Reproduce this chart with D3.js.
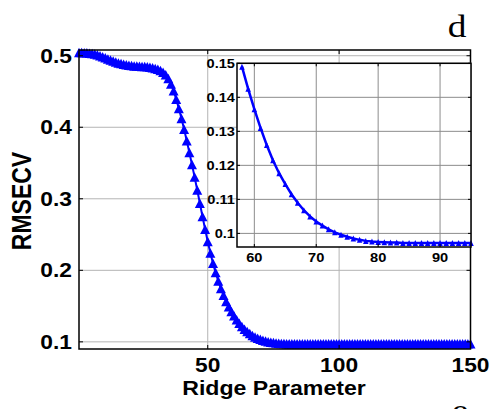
<!DOCTYPE html>
<html>
<head>
<meta charset="utf-8">
<script src="https://cdn.jsdelivr.net/npm/d3@7"></script>
<style>
	body { margin: 0; background: #fff; }
	svg { display: block; }
	text { font-family: "Liberation Sans", Arial, sans-serif; font-weight: bold; fill: #000; }
</style>
</head>
<body>
<div class="chart"></div>
<script>
// DATA
var ridge = d3.range(1, 151);
var rmsecv = [
	0.5045, 0.5045, 0.5043, 0.5040, 0.5035, 0.5030, 0.5023, 0.5013, 0.5000, 0.4985,
	0.4970, 0.4955, 0.4940, 0.4925, 0.4912, 0.4900, 0.4890, 0.4880, 0.4873, 0.4867,
	0.4862, 0.4858, 0.4855, 0.4853, 0.4851, 0.4849, 0.4845, 0.4840, 0.4832, 0.4820,
	0.4810, 0.4795, 0.4770, 0.4735, 0.4680, 0.4605, 0.4510, 0.4393, 0.4263, 0.4123,
	0.3973, 0.3813, 0.3648, 0.3478, 0.3303, 0.3123, 0.2938, 0.2753, 0.2573, 0.2403,
	0.2243, 0.2098, 0.1968, 0.1850, 0.1745, 0.1650, 0.1565, 0.1490, 0.1425, 0.1365,
	0.1310, 0.1260, 0.1215, 0.1177, 0.1145, 0.1115, 0.1090, 0.1068, 0.1050, 0.1035,
	0.1023, 0.1012, 0.1003, 0.0996, 0.0990, 0.0985, 0.0981, 0.0978, 0.0976, 0.0975,
	0.0974, 0.0973, 0.0973, 0.0972, 0.0972, 0.0972, 0.0972, 0.0972, 0.0972, 0.0972,
	0.0972, 0.0972, 0.0972, 0.0972, 0.0972, 0.0972, 0.0972, 0.0972, 0.0972, 0.0972,
	0.0972, 0.0972, 0.0972, 0.0972, 0.0972, 0.0972, 0.0972, 0.0972, 0.0972, 0.0972,
	0.0972, 0.0972, 0.0972, 0.0972, 0.0972, 0.0972, 0.0972, 0.0972, 0.0972, 0.0972,
	0.0972, 0.0972, 0.0972, 0.0972, 0.0972, 0.0972, 0.0972, 0.0972, 0.0972, 0.0972,
	0.0972, 0.0972, 0.0972, 0.0972, 0.0972, 0.0972, 0.0972, 0.0972, 0.0972, 0.0972,
	0.0972, 0.0972, 0.0972, 0.0972, 0.0972, 0.0972, 0.0972, 0.0972, 0.0972, 0.0972
];
var mainXTicks = [50, 100, 150];
var mainYTicks = [0.1, 0.2, 0.3, 0.4, 0.5];
var insetXTicks = [60, 70, 80, 90];
var insetYTicks = [0.1, 0.11, 0.12, 0.13, 0.14, 0.15];
var insetRange = [58, 95];

var points = ridge.map(function(r, i) { return { x: r, y: rmsecv[i] }; });

// SETUP
var W = 495, H = 409;
var sx = 1.17; // text in the picture is a bit wide

var svg = d3.select(".chart").append("svg")
	.attr("width", W)
	.attr("height", H);

var x = d3.scaleLinear().domain([1, 150]).range([79, 470.5]);
var y = d3.scaleLinear().domain([0.09, 0.508]).range([349, 50]);

var xi = d3.scaleLinear().domain([57.2, 95]).range([237, 471]);
var yi = d3.scaleLinear().domain([0.096, 0.15]).range([247, 63.3]);

function tri(w, h) {
	return "M0," + (-h / 2) + "L" + (w / 2) + "," + (h / 2) + "L" + (-w / 2) + "," + (h / 2) + "Z";
}

function label(g, px, py, str, size, anchor, scale) {
	return g.append("text")
		.attr("transform", "translate(" + px + "," + py + ") scale(" + scale + ",1)")
		.attr("text-anchor", anchor)
		.style("font-size", size + "px")
		.text(str);
}

// MAIN AXES
var main = svg.append("g");

main.selectAll(".vgrid")
	.data([50, 100])
	.enter().append("line")
		.attr("x1", x).attr("x2", x)
		.attr("y1", y.range()[1]).attr("y2", y.range()[0])
		.attr("stroke", "#b4b4b4");

main.selectAll(".hgrid")
	.data(mainYTicks)
	.enter().append("line")
		.attr("x1", x.range()[0]).attr("x2", x.range()[1])
		.attr("y1", y).attr("y2", y)
		.attr("stroke", "#b4b4b4");

var line = d3.line()
	.x(function(d) { return x(d.x); })
	.y(function(d) { return y(d.y); });

main.append("path")
	.datum(points)
	.attr("d", line)
	.attr("fill", "none")
	.attr("stroke", "#0000ff")
	.attr("stroke-width", 2);

main.selectAll(".mk")
	.data(points)
	.enter().append("path")
		.attr("transform", function(d) { return "translate(" + x(d.x) + "," + y(d.y) + ")"; })
		.attr("d", tri(10, 9.5))
		.attr("fill", "#0000ff");

// ticks, inward on all sides
mainXTicks.forEach(function(t) {
	main.append("line").attr("x1", x(t)).attr("x2", x(t))
		.attr("y1", y.range()[0]).attr("y2", y.range()[0] - 4).attr("stroke", "#000");
	main.append("line").attr("x1", x(t)).attr("x2", x(t))
		.attr("y1", y.range()[1]).attr("y2", y.range()[1] + 4).attr("stroke", "#000");
	label(main, x(t), 372, t, 20, "middle", 1.14);
});
mainYTicks.forEach(function(t) {
	main.append("line").attr("x1", x.range()[0]).attr("x2", x.range()[0] + 4)
		.attr("y1", y(t)).attr("y2", y(t)).attr("stroke", "#000");
	main.append("line").attr("x1", x.range()[1]).attr("x2", x.range()[1] - 4)
		.attr("y1", y(t)).attr("y2", y(t)).attr("stroke", "#000");
	label(main, 72, y(t) + 7, t, 20, "end", 1.14);
});

main.append("rect")
	.attr("x", x.range()[0]).attr("y", y.range()[1])
	.attr("width", x.range()[1] - x.range()[0])
	.attr("height", y.range()[0] - y.range()[1])
	.attr("fill", "none")
	.attr("stroke", "#000")
	.attr("stroke-width", 1.5);

label(main, 274, 395, "Ridge Parameter", 21, "middle", 1.1);

main.append("text")
	.attr("transform", "translate(31,201) scale(" + sx + ",1) rotate(-90)")
	.attr("text-anchor", "middle")
	.style("font-size", "23px")
	.text("RMSECV");

label(main, 457, 36.5, "d", 32, "middle", sx)
	.style("font-family", "'Liberation Serif', 'Times New Roman', serif")
	.style("font-weight", "normal");

label(main, 460, 421, "e", 32, "middle", sx)
	.style("font-family", "'Liberation Serif', 'Times New Roman', serif")
	.style("font-weight", "normal");

// INSET
var inset = svg.append("g");
var insetPts = points.filter(function(d) { return d.x >= insetRange[0] && d.x <= insetRange[1]; });

inset.append("rect")
	.attr("x", xi.range()[0]).attr("y", yi.range()[1])
	.attr("width", xi.range()[1] - xi.range()[0])
	.attr("height", yi.range()[0] - yi.range()[1])
	.attr("fill", "#fff");

inset.selectAll(".vgrid")
	.data(insetXTicks)
	.enter().append("line")
		.attr("x1", xi).attr("x2", xi)
		.attr("y1", yi.range()[1]).attr("y2", yi.range()[0])
		.attr("stroke", "#8c8c8c");

inset.selectAll(".hgrid")
	.data(insetYTicks)
	.enter().append("line")
		.attr("x1", xi.range()[0]).attr("x2", xi.range()[1])
		.attr("y1", yi).attr("y2", yi)
		.attr("stroke", "#8c8c8c");

var lineI = d3.line()
	.x(function(d) { return xi(d.x); })
	.y(function(d) { return yi(d.y); });

inset.append("path")
	.datum(insetPts)
	.attr("d", lineI)
	.attr("fill", "none")
	.attr("stroke", "#0000ff")
	.attr("stroke-width", 2.5);

inset.selectAll(".mk")
	.data(insetPts)
	.enter().append("path")
		.attr("transform", function(d) { return "translate(" + xi(d.x) + "," + yi(d.y) + ")"; })
		.attr("d", tri(5.5, 6))
		.attr("fill", "#0000ff");

insetXTicks.forEach(function(t) {
	inset.append("line").attr("x1", xi(t)).attr("x2", xi(t))
		.attr("y1", yi.range()[0]).attr("y2", yi.range()[0] - 3).attr("stroke", "#000");
	inset.append("line").attr("x1", xi(t)).attr("x2", xi(t))
		.attr("y1", yi.range()[1]).attr("y2", yi.range()[1] + 3).attr("stroke", "#000");
	label(inset, xi(t), 261.5, t, 12.5, "middle", sx);
});
insetYTicks.forEach(function(t) {
	inset.append("line").attr("x1", xi.range()[0]).attr("x2", xi.range()[0] + 3)
		.attr("y1", yi(t)).attr("y2", yi(t)).attr("stroke", "#000");
	inset.append("line").attr("x1", xi.range()[1]).attr("x2", xi.range()[1] - 3)
		.attr("y1", yi(t)).attr("y2", yi(t)).attr("stroke", "#000");
	label(inset, 235, yi(t) + 4.5, t, 12.5, "end", sx);
});

inset.append("rect")
	.attr("x", xi.range()[0]).attr("y", yi.range()[1])
	.attr("width", xi.range()[1] - xi.range()[0])
	.attr("height", yi.range()[0] - yi.range()[1])
	.attr("fill", "none")
	.attr("stroke", "#000")
	.attr("stroke-width", 1.5);
</script>
</body>
</html>
